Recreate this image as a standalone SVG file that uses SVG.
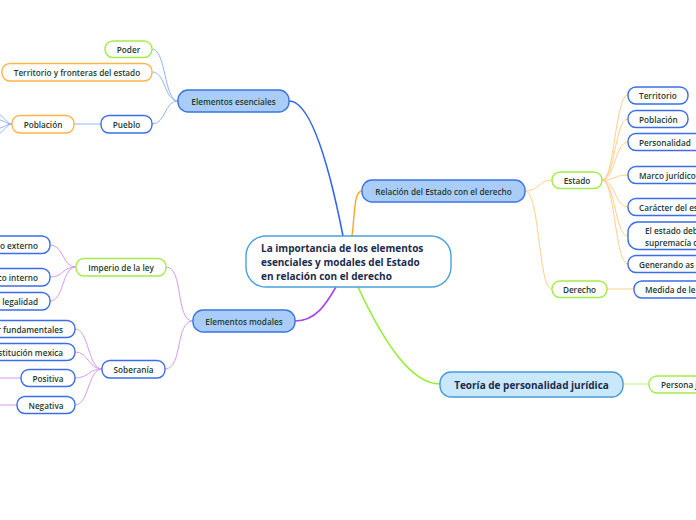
<svg xmlns="http://www.w3.org/2000/svg" width="696" height="520" viewBox="0 0 696 520">
<style>
text{font-family:"Open Sans","Noto Sans","Liberation Sans",sans-serif;font-weight:600;fill:#1d3a2e;font-size:8.2px;dominant-baseline:central}
.c{text-anchor:middle}
.e{text-anchor:end}
.s{text-anchor:start}
.n{fill:#fff;stroke-width:1.4}
.bl{stroke:#3a6ee8}
.gr{stroke:#a4ec4a}
.or{stroke:#ffb54a}
.main{fill:#a9cdf8;stroke:#3a74e0;stroke-width:1.4}
.big{font-size:10px;font-weight:700;fill:#1c2c4e}
.lk{fill:none}
.lb{stroke:#93b4f7;stroke-width:1}
.lp{stroke:#d79af2;stroke-width:1}
.lo{stroke:#ffcf8a;stroke-width:1}
.lg{stroke:#c9f49a;stroke-width:1.2}
</style>
<rect width="696" height="520" fill="#fff"/>
<g id="connectors" class="lk">
<path d="M289,101 C312,101 330,170 343,236" stroke="#2e64f0" stroke-width="1.6"/>
<path d="M352,236 C355,212 354,191 362,191" stroke="#ffa630" stroke-width="1.4"/>
<path d="M295,321 C316,321 326,304 336,287" stroke="#a446f0" stroke-width="1.6"/>
<path d="M358,287 C385,345 412,384 440,384" stroke="#94ef32" stroke-width="1.6"/>
<path class="lb" d="M178,101 C164,101 166,49 152,49"/>
<path class="lb" d="M178,101 C164,101 166,72 152,72"/>
<path class="lb" d="M178,101 C164,101 166,124 152,124"/>
<path class="lb" d="M101,124 L74,124"/>
<path class="lb" d="M12,124 C6,124 4,115 -4,113"/>
<path class="lb" d="M12,124 C6,124 4,120 -4,119"/>
<path class="lb" d="M12,124 C6,124 4,128 -4,129"/>
<path class="lb" d="M12,124 C6,124 4,133 -4,135"/>
<path class="lp" d="M193,321 C175,321 184,267 166,267"/>
<path class="lp" d="M193,321 C175,321 183,369 165,369"/>
<path class="lp" d="M76,267 C62,267 64,245 50,245"/>
<path class="lp" d="M76,267 C62,267 64,277 50,277"/>
<path class="lp" d="M76,267 C62,267 64,301 50,301"/>
<path class="lp" d="M102,369 C88,369 89,329 75,329"/>
<path class="lp" d="M102,369 C88,369 89,352 75,352"/>
<path class="lp" d="M102,369 C88,369 89,378 75,378"/>
<path class="lp" d="M102,369 C88,369 89,405 75,405"/>
<path class="lp" d="M21,378 L-4,378"/>
<path class="lp" d="M17,405 L-4,405"/>
<path class="lo" d="M525,191 C540,191 538,180 552,180"/>
<path class="lo" d="M525,191 C540,191 538,289 552,289"/>
<path class="lo" d="M602,180 C615,180 615,95 628,95"/>
<path class="lo" d="M602,180 C615,180 615,119 628,119"/>
<path class="lo" d="M602,180 C615,180 615,142 628,142"/>
<path class="lo" d="M602,180 C615,180 615,175 628,175"/>
<path class="lo" d="M602,180 C615,180 615,207 628,207"/>
<path class="lo" d="M602,180 C615,180 615,236 628,236"/>
<path class="lo" d="M602,180 C615,180 615,264 628,264"/>
<path class="lo" d="M607,289 L634,289"/>
<path class="lg" d="M623,384 L649,384"/>
</g>
<g id="central">
<rect x="246" y="236" width="205" height="51" rx="20" fill="#fff" stroke="#4aa0dc" stroke-width="1.4"/>
<text class="big s" x="261" y="248">La importancia de los elementos</text>
<text class="big s" x="261" y="262">esenciales y modales  del Estado</text>
<text class="big s" x="261" y="276">en relación con el derecho</text>
</g>
<g id="elementos-esenciales">
<rect class="main" x="178" y="90" width="111" height="22" rx="10"/>
<text class="c" x="233.5" y="101">Elementos esenciales</text>
</g>
<g id="poder">
<rect class="n gr" x="105" y="41" width="47" height="16.5" rx="8"/>
<text class="c" x="128.5" y="49">Poder</text>
</g>
<g id="territorio-fronteras">
<rect class="n or" x="2" y="63.5" width="150" height="17.5" rx="8"/>
<text class="c" x="77" y="72">Territorio y fronteras del estado</text>
</g>
<g id="pueblo">
<rect class="n bl" x="101" y="115.5" width="51" height="17.5" rx="8"/>
<text class="c" x="126.5" y="124">Pueblo</text>
</g>
<g id="poblacion-izq">
<rect class="n or" x="12" y="115.5" width="62" height="17.5" rx="8"/>
<text class="c" x="43" y="124">Población</text>
</g>
<g id="elementos-modales">
<rect class="main" x="193" y="310" width="102" height="22" rx="10"/>
<text class="c" x="244" y="321">Elementos modales</text>
</g>
<g id="imperio-ley">
<rect class="n gr" x="76" y="258.5" width="90" height="17.5" rx="8"/>
<text class="c" x="121" y="267">Imperio de la ley</text>
</g>
<g id="externo">
<rect class="n bl" x="-60" y="236" width="110" height="17.5" rx="8"/>
<text class="e" x="38" y="245">o  externo</text>
</g>
<g id="interno">
<rect class="n bl" x="-60" y="268.5" width="110" height="17.5" rx="8"/>
<text class="e" x="38" y="277">co interno</text>
</g>
<g id="legalidad">
<rect class="n bl" x="-60" y="292.5" width="110" height="17.5" rx="8"/>
<text class="e" x="38" y="301">legalidad</text>
</g>
<g id="soberania">
<rect class="n bl" x="102" y="360.5" width="63" height="17.5" rx="8"/>
<text class="c" x="133.5" y="369">Soberanía</text>
</g>
<g id="fundamentales">
<rect class="n bl" x="-60" y="320.5" width="135" height="17" rx="8"/>
<text class="e" x="63" y="329">r fundamentales</text>
</g>
<g id="constitucion">
<rect class="n bl" x="-60" y="343.5" width="135" height="17" rx="8"/>
<text class="e" x="63" y="352">stitución mexica</text>
</g>
<g id="positiva">
<rect class="n bl" x="21" y="369.5" width="54" height="17" rx="8"/>
<text class="c" x="48" y="378">Positiva</text>
</g>
<g id="negativa">
<rect class="n bl" x="17" y="396.5" width="58" height="17" rx="8"/>
<text class="c" x="46" y="405">Negativa</text>
</g>
<g id="relacion">
<rect class="main" x="362" y="180" width="163" height="22" rx="10"/>
<text class="c" x="443.5" y="191">Relación del Estado con el derecho</text>
</g>
<g id="estado">
<rect class="n gr" x="552" y="172" width="50" height="16.5" rx="8"/>
<text class="c" x="577" y="180">Estado</text>
</g>
<g id="derecho">
<rect class="n gr" x="552" y="281" width="55" height="16.5" rx="8"/>
<text class="c" x="579.5" y="289">Derecho</text>
</g>
<g id="territorio">
<rect class="n bl" x="628" y="87" width="60" height="17" rx="8"/>
<text class="s" x="639" y="95.5">Territorio</text>
</g>
<g id="poblacion">
<rect class="n bl" x="628" y="110.5" width="60" height="17" rx="8"/>
<text class="s" x="639" y="119">Población</text>
</g>
<g id="personalidad">
<rect class="n bl" x="628" y="133.5" width="90" height="17" rx="8"/>
<text class="s" x="639" y="142">Personalidad</text>
</g>
<g id="marco-juridico">
<rect class="n bl" x="628" y="166.5" width="90" height="17" rx="8"/>
<text class="s" x="639" y="175">Marco jurídico</text>
</g>
<g id="caracter">
<rect class="n bl" x="628" y="198.5" width="90" height="17" rx="8"/>
<text class="s" x="639" y="207">Carácter del es</text>
</g>
<g id="supremacia">
<rect class="n bl" x="628" y="222" width="90" height="27.5" rx="10"/>
<text class="s" x="645" y="230">El estado deb</text>
<text class="s" x="645" y="242">supremacía c</text>
</g>
<g id="generando">
<rect class="n bl" x="628" y="255.5" width="90" height="17" rx="8"/>
<text class="s" x="639" y="264">Generando as</text>
</g>
<g id="medida">
<rect class="n bl" x="634" y="281" width="90" height="17" rx="8"/>
<text class="s" x="645" y="289">Medida de le</text>
</g>
<g id="teoria">
<rect x="440" y="372" width="183" height="25" rx="11" fill="#c9e8fb" stroke="#4a9bd8" stroke-width="1.4"/>
<text class="big c" x="531.5" y="384.5">Teoría de personalidad jurídica</text>
</g>
<g id="persona-juridica">
<rect class="n gr" x="649" y="376" width="80" height="17" rx="8"/>
<text class="s" x="661" y="384.5">Persona j</text>
</g>
</svg>
